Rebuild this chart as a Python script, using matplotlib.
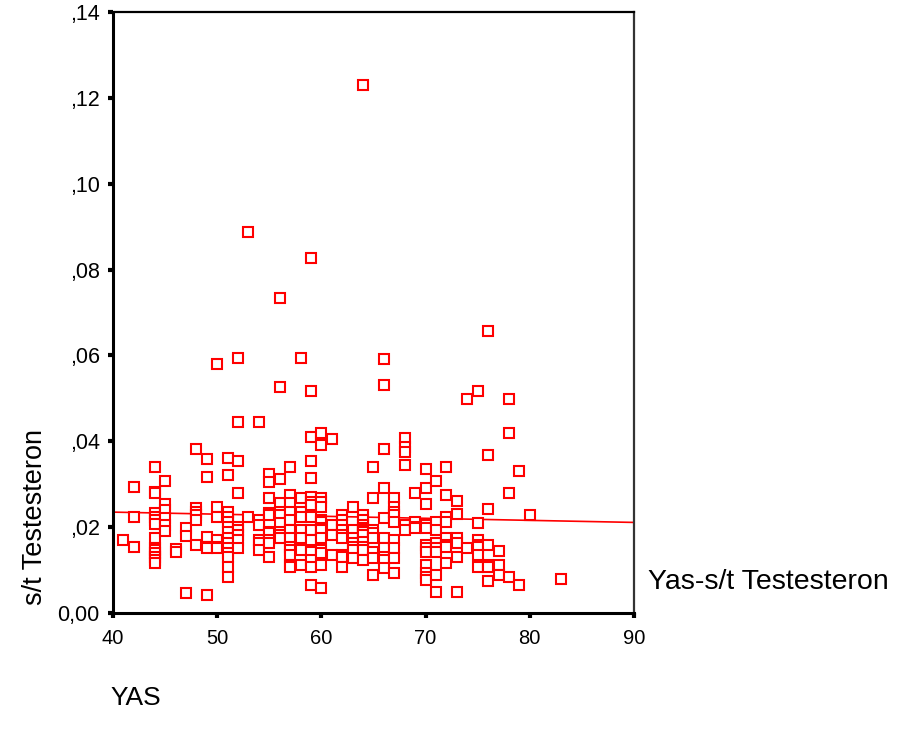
import numpy as np
import matplotlib
matplotlib.use("Agg")
import matplotlib.pyplot as plt

plt.rcParams['font.family'] = ['Liberation Sans', 'DejaVu Sans']

# Data (age -> s/t testosterone values)
ages_41_50 = {
    41: [0.0170],
    42: [0.0293, 0.0224, 0.0154],
    44: [0.0341, 0.0283, 0.0280, 0.0233, 0.0224, 0.0217, 0.0207, 0.0175, 0.0151, 0.0147, 0.0140, 0.0130, 0.0123, 0.0116],
    45: [0.0307, 0.0254, 0.0240, 0.0221, 0.0205, 0.0191],
    46: [0.0149, 0.0142],
    47: [0.0198, 0.0179, 0.0047],
    48: [0.0382, 0.0244, 0.0235, 0.0228, 0.0217, 0.0158],
    49: [0.0359, 0.0317, 0.0177, 0.0154, 0.0151, 0.0042],
    50: [0.0580, 0.0247, 0.0224, 0.0170, 0.0154, 0.0151],
}
ages_51_60 = {
    51: [0.0361, 0.0321, 0.0235, 0.0224, 0.0212, 0.0200, 0.0189, 0.0175, 0.0163, 0.0151, 0.0140, 0.0130, 0.0107, 0.0084],
    52: [0.0594, 0.0445, 0.0354, 0.0280, 0.0200, 0.0193, 0.0182, 0.0170, 0.0151],
    53: [0.0888, 0.0224],
    54: [0.0445, 0.0217, 0.0205, 0.0170, 0.0163, 0.0147],
    55: [0.0324, 0.0305, 0.0268, 0.0233, 0.0228, 0.0189, 0.0186, 0.0170, 0.0163, 0.0130],
    56: [0.0734, 0.0527, 0.0312, 0.0256, 0.0235, 0.0228, 0.0210, 0.0189, 0.0182, 0.0175],
    57: [0.0340, 0.0275, 0.0256, 0.0235, 0.0217, 0.0193, 0.0175, 0.0154, 0.0147, 0.0135, 0.0112, 0.0107],
    58: [0.0594, 0.0268, 0.0235, 0.0224, 0.0193, 0.0175, 0.0147, 0.0112],
    59: [0.0827, 0.0518, 0.0411, 0.0354, 0.0314, 0.0270, 0.0259, 0.0252, 0.0224, 0.0193, 0.0170, 0.0142, 0.0123, 0.0107, 0.0065],
    60: [0.0420, 0.0391, 0.0268, 0.0259, 0.0247, 0.0217, 0.0212, 0.0198, 0.0193, 0.0175, 0.0147, 0.0140, 0.0112, 0.0058],
}
ages_61_70 = {
    61: [0.0405, 0.0205, 0.0182, 0.0135],
    62: [0.0228, 0.0217, 0.0205, 0.0193, 0.0182, 0.0175, 0.0135, 0.0130, 0.0107],
    63: [0.0247, 0.0193, 0.0175, 0.0163, 0.0154, 0.0147, 0.0128],
    64: [0.1230, 0.0228, 0.0217, 0.0205, 0.0198, 0.0193, 0.0189, 0.0182, 0.0165, 0.0154, 0.0147, 0.0123],
    65: [0.0340, 0.0268, 0.0193, 0.0186, 0.0175, 0.0142, 0.0128, 0.0088],
    66: [0.0592, 0.0531, 0.0382, 0.0291, 0.0221, 0.0175, 0.0151, 0.0130, 0.0123, 0.0105],
    67: [0.0268, 0.0247, 0.0235, 0.0228, 0.0212, 0.0170, 0.0151, 0.0128, 0.0093],
    68: [0.0408, 0.0387, 0.0375, 0.0345, 0.0205, 0.0193],
    69: [0.0280, 0.0212, 0.0200, 0.0198],
    70: [0.0335, 0.0291, 0.0254, 0.0205, 0.0198, 0.0158, 0.0151, 0.0142, 0.0112, 0.0093, 0.0084, 0.0077],
}
ages_71_83 = {
    71: [0.0307, 0.0212, 0.0193, 0.0163, 0.0151, 0.0142, 0.0088, 0.0049],
    72: [0.0340, 0.0275, 0.0224, 0.0212, 0.0175, 0.0158, 0.0154, 0.0116],
    73: [0.0261, 0.0231, 0.0175, 0.0163, 0.0130, 0.0049],
    74: [0.0498, 0.0151],
    75: [0.0518, 0.0210, 0.0170, 0.0158, 0.0154, 0.0135, 0.0107],
    76: [0.0657, 0.0368, 0.0242, 0.0158, 0.0112, 0.0107, 0.0075],
    77: [0.0144, 0.0112, 0.0088],
    78: [0.0498, 0.0419, 0.0280, 0.0084],
    79: [0.0331, 0.0065],
    80: [0.0228],
    83: [0.0079],
}

# Fit line (value at x=40 and x=90)
fit_x = [40, 90]
fit_y = [0.0235, 0.0211]

x_ticks = [40, 50, 60, 70, 80, 90]
y_ticks = [0.00, 0.02, 0.04, 0.06, 0.08, 0.10, 0.12, 0.14]
y_tick_labels = ["0,00", ",02", ",04", ",06", ",08", ",10", ",12", ",14"]

x_label = "YAS"
y_label = "s/t Testesteron"
fit_label = "Yas-s/t Testesteron"

ages, values = [], []
for group in (ages_41_50, ages_51_60, ages_61_70, ages_71_83):
    for a, vals in group.items():
        ages.extend([a] * len(vals))
        values.extend(vals)

W, H = 904, 729
fig = plt.figure(figsize=(W / 100, H / 100), dpi=100)
ax = fig.add_axes([113 / W, 1 - 613 / H, (634 - 113) / W, (613 - 12) / H])

ax.plot(ages, values, linestyle='none', marker='s', markersize=6.5,
        markerfacecolor='white', markeredgecolor='#ff0000', markeredgewidth=1.5, zorder=3)
ax.plot(fit_x, fit_y, color='#ff0000', linewidth=1.2, zorder=2)

ax.set_xlim(40, 90)
ax.set_ylim(0, 0.14)
ax.set_xticks(x_ticks)
ax.set_xticklabels([str(t) for t in x_ticks])
ax.set_yticks(y_ticks)
ax.set_yticklabels(y_tick_labels)

ax.tick_params(axis='both', direction='out', length=3.5, width=3, color='black', pad=6)
ax.tick_params(axis='x', pad=8, labelsize=14.5)
ax.tick_params(axis='y', labelsize=15.5)

for side in ('left', 'bottom'):
    ax.spines[side].set_linewidth(2.2)
    ax.spines[side].set_color('black')
ax.spines['top'].set_linewidth(1.6)
ax.spines['top'].set_color('black')
ax.spines['right'].set_linewidth(1.6)
ax.spines['right'].set_color('#333333')

fig.text(35 / W, 1 - 517 / H, y_label, rotation=90, ha='center', va='center', fontsize=19.5)
fig.text(110 / W, 1 - 698 / H, x_label, ha='left', va='center', fontsize=19)
fig.text(648 / W, 1 - 582 / H, fit_label, ha='left', va='center', fontsize=20.5)

fig.savefig("out.png", dpi=100)
